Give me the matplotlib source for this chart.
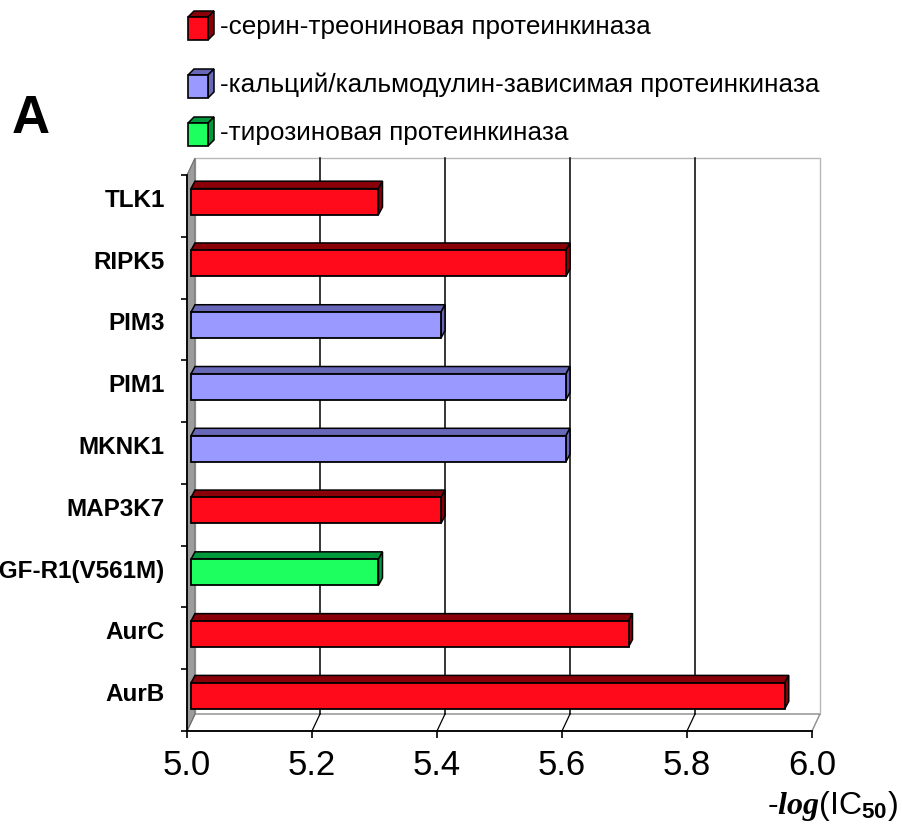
import matplotlib
matplotlib.use("Agg")
import matplotlib.pyplot as plt
from matplotlib.patches import Polygon, Rectangle
from matplotlib.ticker import FixedLocator

# Data (bottom to top as drawn)
kinases = ['AurB', 'AurC', 'IGF-R1(V561M)', 'MAP3K7', 'MKNK1', 'PIM1', 'PIM3', 'RIPK5', 'TLK1']
pic50 = [5.95, 5.70, 5.30, 5.40, 5.60, 5.60, 5.40, 5.60, 5.30]
kinase_type = ['ser', 'ser', 'tyr', 'ser', 'cam', 'cam', 'cam', 'ser', 'ser']
type_order = ['ser', 'cam', 'tyr']
type_labels = ['-серин-треониновая протеинкиназа',
               '-кальций/кальмодулин-зависимая протеинкиназа',
               '-тирозиновая протеинкиназа']
x_ticks = [5.0, 5.2, 5.4, 5.6, 5.8, 6.0]

front_col = {'ser': '#ff0a1a', 'cam': '#9999ff', 'tyr': '#1cff5e'}
top_col = {'ser': '#8a0008', 'cam': '#6868b8', 'tyr': '#009a3c'}

plt.rcParams['font.family'] = ['Liberation Sans', 'DejaVu Sans']
plt.rcParams['mathtext.fontset'] = 'custom'
plt.rcParams['mathtext.rm'] = 'Liberation Sans'
plt.rcParams['mathtext.it'] = 'Liberation Serif:italic:bold'
plt.rcParams['mathtext.bf'] = 'Liberation Sans:bold'

W, H = 902, 836
fig = plt.figure(figsize=(W / 100, H / 100), dpi=100)
ax = fig.add_axes([187 / W, 105 / H, 625 / W, 556 / H])
ax.set_xlim(5.0, 6.0)
ax.set_ylim(-0.5, len(kinases) - 0.5)

# 3D depth offsets in data units
dxw, dyw = 0.0128, 0.275   # walls
bx, by = 0.0064, 0.07      # bar front face shift
bh = 0.42                  # bar height
tdx, tdy = 0.0064, 0.12    # bar top/side depth

y_lo, y_hi = -0.5, len(kinases) - 0.5

# back wall
ax.add_patch(Polygon([(5.0 + dxw, y_lo + dyw), (6.0 + dxw, y_lo + dyw),
                      (6.0 + dxw, y_hi + dyw), (5.0 + dxw, y_hi + dyw)],
                     facecolor='white', edgecolor='#b8b8b8', lw=1, clip_on=False, zorder=0.5))
# floor
ax.add_patch(Polygon([(5.0, y_lo), (6.0, y_lo), (6.0 + dxw, y_lo + dyw), (5.0 + dxw, y_lo + dyw)],
                     facecolor='white', edgecolor='#8c8c8c', lw=1, clip_on=False, zorder=0.6))
# left wall
ax.add_patch(Polygon([(5.0, y_lo), (5.0 + dxw, y_lo + dyw), (5.0 + dxw, y_hi + dyw), (5.0, y_hi)],
                     facecolor='#9c9c9c', edgecolor='#6c6c6c', lw=0.8, clip_on=False, zorder=0.7))

# gridlines on back wall and floor
for xt in x_ticks[1:-1]:
    ax.plot([xt + dxw, xt + dxw], [y_lo + dyw, y_hi + dyw], color='black', lw=1.1,
            clip_on=False, zorder=0.8)
    ax.plot([xt, xt + dxw], [y_lo, y_lo + dyw], color='black', lw=0.9, clip_on=False, zorder=0.8)

# bars
for i, (v, t) in enumerate(zip(pic50, kinase_type)):
    x0 = 5.0 + bx
    x1 = v + bx
    y0 = i - bh / 2 + by
    y1 = y0 + bh
    ax.add_patch(Polygon([(x0, y1), (x1, y1), (x1 + tdx, y1 + tdy), (x0 + tdx, y1 + tdy)],
                         facecolor=top_col[t], edgecolor='black', lw=1.1, clip_on=False, zorder=3))
    ax.add_patch(Polygon([(x1, y0), (x1 + tdx, y0 + tdy), (x1 + tdx, y1 + tdy), (x1, y1)],
                         facecolor=top_col[t], edgecolor='black', lw=1.1, clip_on=False, zorder=3))
    ax.add_patch(Rectangle((x0, y0), x1 - x0, bh, facecolor=front_col[t],
                           edgecolor='black', lw=1.3, clip_on=False, zorder=3.1))

# axes, ticks
for s in ['top', 'right']:
    ax.spines[s].set_visible(False)
ax.spines['bottom'].set_linewidth(1.3)
ax.spines['left'].set_linewidth(1.3)
ax.set_facecolor('none')
ax.set_xticks(x_ticks)
ax.set_xticklabels([f'{x:.1f}' for x in x_ticks], fontsize=25)
ax.tick_params(axis='x', length=5, width=1.2, pad=8)
ax.set_yticks([k + 0.13 for k in range(len(kinases))])
ax.set_yticklabels(kinases, fontsize=17.5, fontweight='bold')
ax.tick_params(axis='y', which='major', length=0, pad=16)
ax.yaxis.set_minor_locator(FixedLocator([k - 0.5 for k in range(len(kinases) + 1)]))
ax.tick_params(axis='y', which='minor', length=4, width=1.2)

# overlay for legend and annotations (pixel layout)
lax = fig.add_axes([0, 0, 1, 1], zorder=-1)
lax.set_xlim(0, W)
lax.set_ylim(H, 0)
lax.axis('off')

row_y = [27, 85, 133]
for t, lab, cy in zip(type_order, type_labels, row_y):
    cx0, cw, ch, d = 188, 20, 23, 6
    fy0 = cy - 10
    lax.add_patch(Polygon([(cx0, fy0), (cx0 + d, fy0 - d), (cx0 + cw + d, fy0 - d), (cx0 + cw, fy0)],
                          facecolor=top_col[t], edgecolor='black', lw=1.1))
    lax.add_patch(Polygon([(cx0 + cw, fy0), (cx0 + cw + d, fy0 - d), (cx0 + cw + d, fy0 + ch - d),
                           (cx0 + cw, fy0 + ch)], facecolor=top_col[t], edgecolor='black', lw=1.1))
    lax.add_patch(Rectangle((cx0, fy0), cw, ch, facecolor=front_col[t], edgecolor='black', lw=1.2))
    lax.text(220, cy, lab, fontsize=18.8, va='center', ha='left')

lax.text(12, 133, 'A', fontsize=38, fontweight='bold', va='baseline', ha='left')
lax.text(898, 814, r'-$\mathit{log}$(IC$_{\mathbf{50}}$)', fontsize=23,
         va='baseline', ha='right')

fig.savefig('out.png', dpi=100)
